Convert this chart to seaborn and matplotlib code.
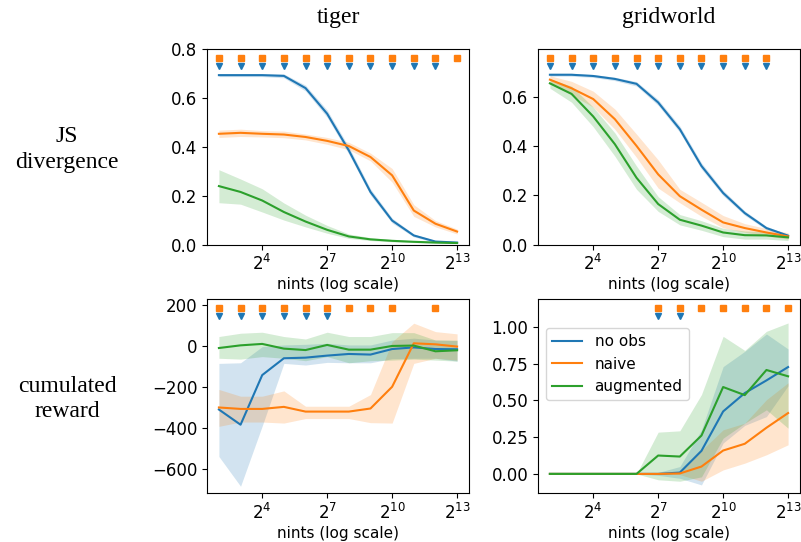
import numpy as np
import pandas as pd
import matplotlib
matplotlib.use("Agg")
import matplotlib.pyplot as plt
from matplotlib.ticker import FixedLocator, NullLocator, LogFormatterSciNotation
import seaborn as sns

# ---------------------------------------------------------------- data
nints = [4, 8, 16, 32, 64, 128, 256, 512, 1024, 2048, 4096, 8192]
methods = ["no obs", "naive", "augmented"]

# tiger -- JS divergence (mean, lower, upper)
tiger_js_noobs = [0.693, 0.693, 0.693, 0.690, 0.640, 0.535, 0.385, 0.215, 0.098, 0.037, 0.012, 0.008]
tiger_js_noobs_lo = [0.687, 0.687, 0.687, 0.682, 0.628, 0.520, 0.370, 0.202, 0.088, 0.031, 0.008, 0.005]
tiger_js_noobs_hi = [0.699, 0.699, 0.699, 0.698, 0.652, 0.550, 0.400, 0.228, 0.108, 0.043, 0.016, 0.011]
tiger_js_naive = [0.453, 0.457, 0.453, 0.450, 0.440, 0.424, 0.403, 0.358, 0.283, 0.139, 0.085, 0.053]
tiger_js_naive_lo = [0.438, 0.442, 0.440, 0.437, 0.428, 0.410, 0.388, 0.342, 0.255, 0.115, 0.072, 0.043]
tiger_js_naive_hi = [0.468, 0.472, 0.466, 0.464, 0.452, 0.438, 0.418, 0.374, 0.311, 0.163, 0.098, 0.063]
tiger_js_aug = [0.239, 0.215, 0.180, 0.133, 0.094, 0.060, 0.033, 0.021, 0.015, 0.011, 0.008, 0.006]
tiger_js_aug_lo = [0.171, 0.165, 0.133, 0.100, 0.072, 0.046, 0.025, 0.016, 0.011, 0.008, 0.005, 0.004]
tiger_js_aug_hi = [0.306, 0.268, 0.228, 0.170, 0.120, 0.078, 0.043, 0.028, 0.020, 0.015, 0.011, 0.009]

# gridworld -- JS divergence
grid_js_noobs = [0.692, 0.692, 0.687, 0.675, 0.655, 0.579, 0.470, 0.320, 0.210, 0.128, 0.067, 0.036]
grid_js_noobs_lo = [0.686, 0.686, 0.681, 0.668, 0.646, 0.567, 0.457, 0.307, 0.199, 0.119, 0.060, 0.031]
grid_js_noobs_hi = [0.698, 0.698, 0.693, 0.682, 0.664, 0.591, 0.483, 0.333, 0.221, 0.137, 0.074, 0.041]
grid_js_naive = [0.672, 0.637, 0.593, 0.511, 0.402, 0.286, 0.197, 0.142, 0.090, 0.067, 0.049, 0.033]
grid_js_naive_lo = [0.655, 0.610, 0.560, 0.470, 0.355, 0.230, 0.170, 0.115, 0.068, 0.050, 0.035, 0.022]
grid_js_naive_hi = [0.688, 0.665, 0.625, 0.552, 0.450, 0.345, 0.225, 0.172, 0.118, 0.085, 0.065, 0.048]
grid_js_aug = [0.657, 0.614, 0.522, 0.409, 0.272, 0.165, 0.101, 0.077, 0.049, 0.038, 0.037, 0.029]
grid_js_aug_lo = [0.637, 0.580, 0.480, 0.360, 0.225, 0.135, 0.080, 0.058, 0.032, 0.022, 0.022, 0.016]
grid_js_aug_hi = [0.675, 0.645, 0.560, 0.455, 0.320, 0.195, 0.122, 0.097, 0.066, 0.055, 0.052, 0.042]

# tiger -- cumulated reward
tiger_rw_noobs = [-310, -384, -142, -60, -57, -47, -39, -42, -15, -7, -15, -16]
tiger_rw_noobs_lo = [-539, -684, -390, -85, -93, -80, -82, -82, -62, -60, -60, -74]
tiger_rw_noobs_hi = [-85, -82, -3, 5, 8, 13, 5, 5, 29, 38, 29, 26]
tiger_rw_naive = [-300, -307, -307, -297, -320, -320, -320, -305, -199, 13, 8, -3]
tiger_rw_naive_lo = [-392, -371, -371, -376, -354, -354, -354, -374, -376, -85, -60, -69]
tiger_rw_naive_hi = [-212, -245, -245, -219, -294, -294, -294, -237, 21, 111, 70, 59]
tiger_rw_aug = [-10, 3, 10, -13, -20, 5, -18, -18, 0, 2, -26, -21]
tiger_rw_aug_lo = [-60, -64, -52, -60, -72, -52, -82, -72, -69, -64, -69, -74]
tiger_rw_aug_hi = [46, 62, 67, 46, 34, 67, 46, 46, 65, 65, 29, 29]

# gridworld -- cumulated reward
grid_rw_noobs = [0, 0, 0, 0, 0, 0, 0.009, 0.157, 0.425, 0.550, 0.636, 0.727]
grid_rw_noobs_lo = [0, 0, 0, 0, 0, -0.010, -0.030, -0.075, 0.210, 0.330, 0.390, 0.600]
grid_rw_noobs_hi = [0, 0, 0, 0, 0, 0.010, 0.050, 0.300, 0.730, 0.834, 0.952, 0.850]
grid_rw_naive = [0, 0, 0, 0, 0, 0, 0.003, 0.050, 0.159, 0.205, 0.314, 0.414]
grid_rw_naive_lo = [0, 0, 0, 0, 0, 0, -0.005, -0.050, 0.027, 0.073, 0.130, 0.198]
grid_rw_naive_hi = [0, 0, 0, 0, 0, 0, 0.010, 0.160, 0.300, 0.345, 0.505, 0.620]
grid_rw_aug = [0, 0, 0, 0, 0, 0.125, 0.118, 0.261, 0.591, 0.536, 0.707, 0.664]
grid_rw_aug_lo = [0, 0, 0, 0, 0, -0.040, -0.050, -0.020, 0.243, 0.345, 0.436, 0.311]
grid_rw_aug_hi = [0, 0, 0, 0, 0, 0.284, 0.293, 0.540, 0.936, 0.840, 0.970, 1.027]

# nints where the difference to "augmented" is significant
tiger_js_sig_naive = [4, 8, 16, 32, 64, 128, 256, 512, 1024, 2048, 4096, 8192]
tiger_js_sig_noobs = [4, 8, 16, 32, 64, 128, 256, 512, 1024, 2048, 4096]
grid_js_sig_naive = [4, 8, 16, 32, 64, 128, 256, 512, 1024, 2048, 4096]
grid_js_sig_noobs = [4, 8, 16, 32, 64, 128, 256, 512, 1024, 2048, 4096]
tiger_rw_sig_naive = [4, 8, 16, 32, 64, 128, 256, 512, 1024, 4096]
tiger_rw_sig_noobs = [4, 8, 16, 32, 64, 128]
grid_rw_sig_naive = [128, 256, 512, 1024, 2048, 4096, 8192]
grid_rw_sig_noobs = [128, 256]

xticks = [2 ** 4, 2 ** 7, 2 ** 10, 2 ** 13]
col_titles = ["tiger", "gridworld"]
row_titles = ["JS\ndivergence", "cumulated\nreward"]
xlabel = "nints (log scale)"

# ---------------------------------------------------------------- figure
palette = dict(zip(methods, sns.color_palette("tab10", 3)))

panels = [
    # (row, col, series, sig_naive, sig_noobs, ylim, yticks)
    (0, 0,
     [(tiger_js_noobs, tiger_js_noobs_lo, tiger_js_noobs_hi),
      (tiger_js_naive, tiger_js_naive_lo, tiger_js_naive_hi),
      (tiger_js_aug, tiger_js_aug_lo, tiger_js_aug_hi)],
     tiger_js_sig_naive, tiger_js_sig_noobs, (0, 0.8), [0, 0.2, 0.4, 0.6, 0.8]),
    (0, 1,
     [(grid_js_noobs, grid_js_noobs_lo, grid_js_noobs_hi),
      (grid_js_naive, grid_js_naive_lo, grid_js_naive_hi),
      (grid_js_aug, grid_js_aug_lo, grid_js_aug_hi)],
     grid_js_sig_naive, grid_js_sig_noobs, (0, 0.797), [0, 0.2, 0.4, 0.6]),
    (1, 0,
     [(tiger_rw_noobs, tiger_rw_noobs_lo, tiger_rw_noobs_hi),
      (tiger_rw_naive, tiger_rw_naive_lo, tiger_rw_naive_hi),
      (tiger_rw_aug, tiger_rw_aug_lo, tiger_rw_aug_hi)],
     tiger_rw_sig_naive, tiger_rw_sig_noobs, (-717, 229), [-600, -400, -200, 0, 200]),
    (1, 1,
     [(grid_rw_noobs, grid_rw_noobs_lo, grid_rw_noobs_hi),
      (grid_rw_naive, grid_rw_naive_lo, grid_rw_naive_hi),
      (grid_rw_aug, grid_rw_aug_lo, grid_rw_aug_hi)],
     grid_rw_sig_naive, grid_rw_sig_noobs, (-0.13, 1.19), [0, 0.25, 0.5, 0.75, 1.0]),
]

fig = plt.figure(figsize=(8.01, 5.42), dpi=100)
lefts = [207 / 801, 538 / 801]
width = 262 / 801
bottoms = [1 - 244.5 / 542, 1 - 493 / 542]
heights = [195.5 / 542, 194 / 542]

axes = {}
for r in range(2):
    for c in range(2):
        axes[(r, c)] = fig.add_axes([lefts[c], bottoms[r], width, heights[r]])

for r, c, series, sig_naive, sig_noobs, ylim, yticks in panels:
    ax = axes[(r, c)]
    frames = []
    for method, (mean, lo, hi) in zip(methods, series):
        frames.append(pd.DataFrame({"nints": nints, "value": mean, "lo": lo,
                                    "hi": hi, "method": method}))
    df = pd.concat(frames, ignore_index=True)

    for method in methods:
        sub = df[df["method"] == method]
        ax.fill_between(sub["nints"], sub["lo"], sub["hi"],
                        color=palette[method], alpha=0.2, linewidth=0)
    show_legend = (r == 1 and c == 1)
    sns.lineplot(data=df, x="nints", y="value", hue="method", hue_order=methods,
                 palette=palette, errorbar=None, linewidth=1.5, ax=ax,
                 legend=show_legend)

    # significance markers along the top of the panel
    trans = ax.get_xaxis_transform()
    ax.plot(sig_naive, [0.955] * len(sig_naive), ls="none", marker="s",
            ms=4.5, color=palette["naive"], transform=trans, clip_on=False)
    ax.plot(sig_noobs, [0.913] * len(sig_noobs), ls="none", marker="v",
            ms=5, color=palette["no obs"], transform=trans, clip_on=False)

    ax.set_xscale("log", base=2)
    ax.xaxis.set_major_locator(FixedLocator(xticks))
    ax.xaxis.set_major_formatter(LogFormatterSciNotation(base=2))
    ax.xaxis.set_minor_locator(NullLocator())
    ax.set_xlim(2 ** 1.45, 2 ** 13.55)
    ax.set_ylim(*ylim)
    ax.set_yticks(yticks)
    ax.tick_params(labelsize=12)
    ax.set_xlabel(xlabel, fontsize=11, labelpad=2)
    ax.set_ylabel("")

    if show_legend:
        handles, labels = ax.get_legend_handles_labels()
        ax.legend(handles, labels, loc="upper left", bbox_to_anchor=(0.0, 0.89),
                  fontsize=11)

for c, title in enumerate(col_titles):
    fig.text(lefts[c] + width / 2, 1 - 17 / 542, title, ha="center", va="center",
             fontsize=17, family="Liberation Serif")
for r, title in enumerate(row_titles):
    fig.text(67 / 801, bottoms[r] + heights[r] / 2 - 3 / 542, title,
             ha="center", va="center", fontsize=17, family="Liberation Serif",
             linespacing=1.3)

fig.savefig("out.png", dpi=100)
